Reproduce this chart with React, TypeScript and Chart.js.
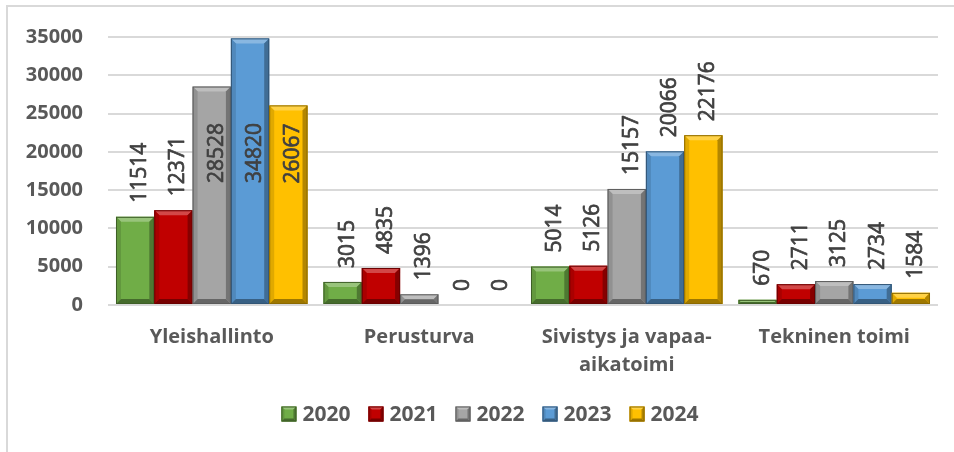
import React, { useEffect, useRef } from 'react';
import { Chart, registerables } from 'chart.js';

Chart.register(...registerables);

const categories: (string | string[])[] = ['Yleishallinto', 'Perusturva', ['Sivistys ja vapaa-', 'aikatoimi'], 'Tekninen toimi'];
const seriesNames = ['2020', '2021', '2022', '2023', '2024'];
const values2020 = [11514, 3015, 5014, 670];
const values2021 = [12371, 4835, 5126, 2711];
const values2022 = [28528, 1396, 15157, 3125];
const values2023 = [34820, 0, 20066, 2734];
const values2024 = [26067, 0, 22176, 1584];
const yTicks = [0, 5000, 10000, 15000, 20000, 25000, 30000, 35000];
const seriesValues = [values2020, values2021, values2022, values2023, values2024];
const seriesColors = ['#70AD47', '#C00000', '#A5A5A5', '#5B9BD5', '#FFC000'];

const FONT = '"Open Sans", "Liberation Sans", sans-serif';
const TEXT = '#595959';

function mix(hex: string, target: string, t: number): string {
  const p = (h: string) => [1, 3, 5].map((i) => parseInt(h.slice(i, i + 2), 16));
  const a = p(hex);
  const b = p(target);
  const c = a.map((v, i) => Math.round(v + (b[i] - v) * t));
  return `rgb(${c[0]},${c[1]},${c[2]})`;
}

function poly(ctx: CanvasRenderingContext2D, pts: number[][], fill: string) {
  ctx.beginPath();
  ctx.moveTo(pts[0][0], pts[0][1]);
  for (let i = 1; i < pts.length; i++) ctx.lineTo(pts[i][0], pts[i][1]);
  ctx.closePath();
  ctx.fillStyle = fill;
  ctx.fill();
}

function bevelRect(ctx: CanvasRenderingContext2D, l: number, t: number, r: number, b: number, c: string, maxB: number) {
  const w = r - l;
  const h = b - t;
  if (h < 0.5 || w < 0.5) return;
  const bv = Math.min(maxB, h / 2, w / 2);
  poly(ctx, [[l, t], [r, t], [r - bv, t + bv], [l + bv, t + bv]], mix(c, '#ffffff', 0.28));
  poly(ctx, [[l, t], [l + bv, t + bv], [l + bv, b - bv], [l, b]], mix(c, '#000000', 0.12));
  poly(ctx, [[r, t], [r, b], [r - bv, b - bv], [r - bv, t + bv]], mix(c, '#000000', 0.3));
  poly(ctx, [[l, b], [r, b], [r - bv, b - bv], [l + bv, b - bv]], mix(c, '#000000', 0.38));
  ctx.strokeStyle = mix(c, '#000000', 0.45);
  ctx.lineWidth = 1;
  ctx.strokeRect(l + 0.5, t + 0.5, Math.max(0, w - 1), Math.max(0, h - 1));
}

const bevelPlugin = {
  id: 'bevel',
  afterDatasetsDraw(chart: any) {
    const ctx = chart.ctx as CanvasRenderingContext2D;
    ctx.save();
    chart.data.datasets.forEach((ds: any, di: number) => {
      const meta = chart.getDatasetMeta(di);
      meta.data.forEach((bar: any) => {
        const { x, y, base, width } = bar.getProps(['x', 'y', 'base', 'width'], true);
        bevelRect(ctx, x - width / 2, Math.min(y, base), x + width / 2, Math.max(y, base), ds.backgroundColor, 5);
      });
    });
    ctx.restore();
  },
};

const labelPlugin = {
  id: 'barLabels',
  afterDatasetsDraw(chart: any) {
    const ctx = chart.ctx as CanvasRenderingContext2D;
    const area = chart.chartArea;
    ctx.save();
    ctx.font = `21px ${FONT}`;
    ctx.fillStyle = '#404040';
    ctx.strokeStyle = '#404040';
    ctx.lineWidth = 0.7;
    ctx.lineJoin = 'round';
    ctx.textAlign = 'left';
    ctx.textBaseline = 'alphabetic';
    chart.data.datasets.forEach((ds: any, di: number) => {
      const meta = chart.getDatasetMeta(di);
      meta.data.forEach((bar: any, i: number) => {
        const { x, y } = bar.getProps(['x', 'y'], true);
        const text = String(ds.data[i]);
        const tw = ctx.measureText(text).width;
        let start = y - 14;
        if (start - tw < area.top) {
          start = Math.max(y + 18, area.top + 86) + tw;
        }
        ctx.save();
        ctx.translate(x + 11, start);
        ctx.rotate(-Math.PI / 2);
        ctx.fillText(text, 0, 0);
        ctx.strokeText(text, 0, 0);
        ctx.restore();
      });
    });
    ctx.restore();
  },
};

const legendPlugin = {
  id: 'customLegend',
  afterDraw(chart: any, _args: any, opts: any) {
    const ctx = chart.ctx as CanvasRenderingContext2D;
    ctx.save();
    ctx.font = `bold 21px ${FONT}`;
    const box = 15;
    const gap = 6;
    const spacing = 18;
    const items = chart.data.datasets.map((ds: any) => ({
      label: ds.label as string,
      color: ds.backgroundColor as string,
      w: ctx.measureText(ds.label).width,
    }));
    const total = items.reduce((s: number, it: any) => s + box + gap + it.w, 0) + spacing * (items.length - 1);
    let x = opts.centerX - total / 2;
    const y = opts.y;
    items.forEach((it: any) => {
      ctx.fillStyle = it.color;
      ctx.fillRect(x, y - box / 2, box, box);
      bevelRect(ctx, x, y - box / 2, x + box, y + box / 2, it.color, 3);
      ctx.fillStyle = TEXT;
      ctx.textAlign = 'left';
      ctx.textBaseline = 'middle';
      ctx.fillText(it.label, x + box + gap, y + 1);
      x += box + gap + it.w + spacing;
    });
    ctx.restore();
  },
};

export default function App() {
  const canvasRef = useRef<HTMLCanvasElement | null>(null);

  useEffect(() => {
    if (!canvasRef.current) return;
    const chart = new Chart(canvasRef.current, {
      type: 'bar',
      data: {
        labels: categories as any,
        datasets: seriesNames.map((name, i) => ({
          label: name,
          data: seriesValues[i],
          backgroundColor: seriesColors[i],
          borderWidth: 0,
          barPercentage: 1,
          categoryPercentage: 0.923,
        })),
      },
      options: {
        animation: false,
        responsive: true,
        maintainAspectRatio: false,
        layout: { padding: { left: 8, right: 16, top: 36, bottom: 57 } },
        plugins: {
          legend: { display: false },
          tooltip: { enabled: false },
          customLegend: { centerX: 490, y: 414 },
        } as any,
        scales: {
          x: {
            grid: { display: false },
            border: { display: false },
            ticks: {
              color: TEXT,
              font: { family: FONT, size: 20, weight: 'bold', lineHeight: 1.4 },
              padding: 10,
              maxRotation: 0,
              autoSkip: false,
            },
            afterFit(scale: any) {
              scale.height = 90;
            },
          },
          y: {
            min: 0,
            max: 35000,
            grid: { color: '#D9D9D9', lineWidth: 2, drawTicks: false },
            border: { display: false },
            ticks: {
              color: TEXT,
              font: { family: FONT, size: 20, weight: 'bold' },
              padding: 25,
              callback: (v: any) => String(v),
            },
            afterBuildTicks(scale: any) {
              scale.ticks = yTicks.map((v) => ({ value: v }));
            },
            afterFit(scale: any) {
              scale.width = 100;
            },
          },
        },
      },
      plugins: [bevelPlugin, labelPlugin, legendPlugin],
    });
    return () => chart.destroy();
  }, []);

  return (
    <div style={{ position: 'fixed', left: 0, top: 0, width: 954, height: 452, overflow: 'hidden', background: '#ffffff' }}>
      <div
        style={{
          position: 'absolute',
          left: 6,
          top: 5,
          width: 2000,
          height: 2000,
          borderLeft: '2px solid #D9D9D9',
          borderTop: '2px solid #D9D9D9',
        }}
      />
      <div style={{ position: 'absolute', left: 0, top: 0, width: 954, height: 452 }}>
        <canvas ref={canvasRef} />
      </div>
    </div>
  );
}
